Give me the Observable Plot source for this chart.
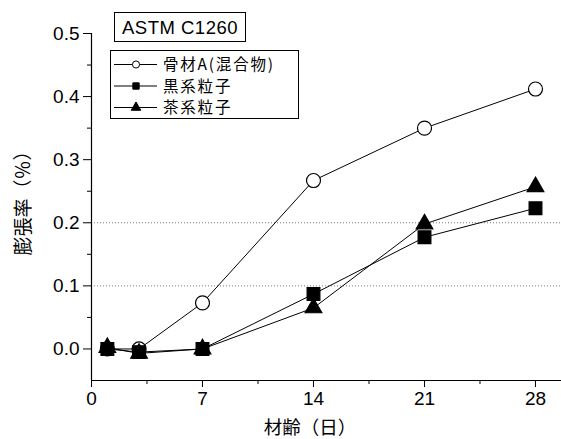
<!DOCTYPE html>
<html><head><meta charset="utf-8">
<script src="https://cdn.jsdelivr.net/npm/d3@7"></script>
<script src="https://cdn.jsdelivr.net/npm/@observablehq/plot@0.6"></script>
<style>
body{margin:0;background:#fff;}
#wrap{position:relative;width:561px;height:439px;}
#title{position:absolute;left:114px;top:12px;width:130px;height:28px;border:1px solid #000;font:18.5px "Liberation Sans",Arial,sans-serif;letter-spacing:0.5px;line-height:29px;text-align:center;background:#fff;}
#legend{position:absolute;left:110px;top:50px;width:187px;height:67px;border:1px solid #000;background:#fff;}
</style></head>
<body><div id="wrap"><div id="title">ASTM C1260</div><div id="legend"></div></div>
<script>
const days = [1, 3, 7, 14, 21, 28];
const seriesNames = ["骨材A(混合物)", "黒系粒子", "茶系粒子"];
const seriesSymbols = ["circle", "square", "triangle"];
const seriesFill = ["white", "black", "black"];
const seriesR = [7, 7.2, 6.2];
const aggregateA = [0.0, 0.0, 0.073, 0.267, 0.350, 0.412];
const blackParticles = [0.0, -0.005, 0.0, 0.087, 0.177, 0.223];
const brownParticles = [0.002, -0.007, 0.0, 0.065, 0.198, 0.257];
const xTicks = [0, 7, 14, 21, 28];
const xMinorTicks = [3.5, 10.5, 17.5, 24.5];
const yTicks = [0.0, 0.1, 0.2, 0.3, 0.4, 0.5];
const yMinorTicks = [0.05, 0.15, 0.25, 0.35, 0.45];
const gridY = [0.1, 0.2];

const allValues = [aggregateA, blackParticles, brownParticles];
const data = allValues.flatMap((vals, s) => vals.map((v, i) => ({day: days[i], value: v, series: seriesNames[s], s})));

const font = '"Liberation Sans", Arial, sans-serif';
const plot = Plot.plot({
  width: 561, height: 439,
  marginLeft: 91, marginRight: 0, marginTop: 33, marginBottom: 59,
  style: {fontFamily: font, fontSize: "19px", background: "transparent", overflow: "visible"},
  x: {domain: [0, 29.64]},
  y: {domain: [-0.05, 0.5]},
  marks: [
    Plot.ruleY(gridY, {stroke: "#777", strokeDasharray: "1,2", strokeWidth: 1}),
    Plot.ruleX([0], {stroke: "black", strokeWidth: 1.2}),
    Plot.ruleY([-0.05], {stroke: "black", strokeWidth: 1.2}),
    Plot.axisY({ticks: yTicks, tickSize: 8, tickPadding: 4, tickFormat: d3.format(".1f"), label: null, fontSize: 19}),
    Plot.axisY({ticks: yMinorTicks, tickSize: 4, text: null, label: null}),
    Plot.axisX({ticks: xTicks, tickSize: 7, tickPadding: 4, label: null, fontSize: 19}),
    Plot.axisX({ticks: xMinorTicks, tickSize: 4, text: null, label: null}),
    ...allValues.map((vals, s) => Plot.line(data.filter(d => d.s === s), {x: "day", y: "value", stroke: "black", strokeWidth: 1})),
    ...allValues.map((vals, s) => Plot.dot(data.filter(d => d.s === s), {x: "day", y: "value", symbol: () => seriesSymbols[s], r: seriesR[s], fill: seriesFill[s], stroke: "black", strokeWidth: 1.2})),
    Plot.text(["材齢（日）"], {frameAnchor: "bottom", x: () => 13.78, dy: 47.5, textAnchor: "middle", fontFamily: '"Noto Sans CJK JP"', fontSize: 18.5, lineAnchor: "middle"}),
    Plot.text(["膨張率（％）"], {frameAnchor: "left", dx: -68, dy: -8.5, textAnchor: "middle", lineAnchor: "middle", rotate: -90, fontFamily: '"Noto Sans CJK JP"', fontSize: 19})
  ]
});
document.getElementById("wrap").prepend(plot);
plot.style.position = "absolute"; plot.style.left = "0"; plot.style.top = "0";

// legend
const lg = d3.select("#legend").append("svg").attr("width", 187).attr("height", 67);
const rowsY = [13.5, 35, 56.5];
seriesNames.forEach((name, i) => {
  const g = lg.append("g").attr("transform", `translate(0,${rowsY[i]})`);
  g.append("line").attr("x1", 3).attr("x2", 46).attr("stroke", "black").attr("stroke-width", 1);
  const sym = d3.symbol().type(seriesSymbols[i] === "circle" ? d3.symbolCircle : seriesSymbols[i] === "square" ? d3.symbolSquare : d3.symbolTriangle).size(40);
  g.append("path").attr("d", sym()).attr("transform", "translate(25,0)").attr("fill", seriesFill[i]).attr("stroke", "black").attr("stroke-width", 1);
  g.append("text").attr("x", 52).attr("y", 0).attr("dy", "0.36em").attr("font-family", '"Noto Sans CJK JP"').attr("font-size", 15.5).attr("letter-spacing", "1.8px").text(name);
});
</script></body></html>
